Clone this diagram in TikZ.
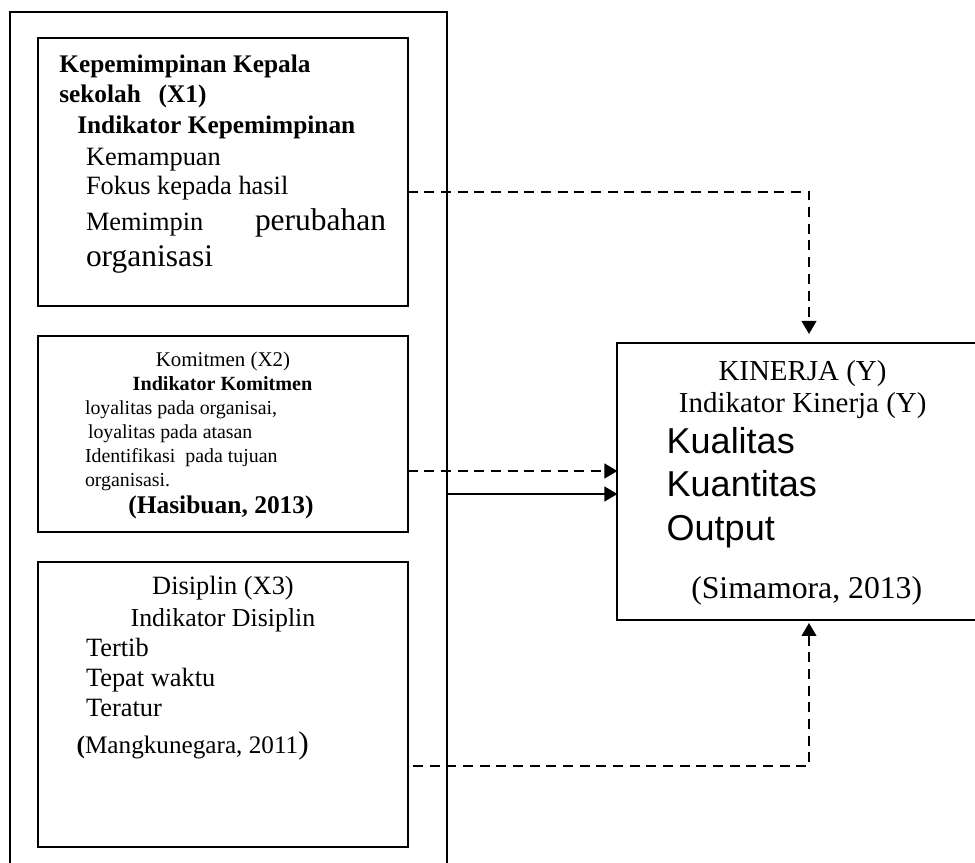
\documentclass[tikz,border=0pt]{standalone}
\usepackage{fontspec}
\setmainfont{Liberation Serif}
\newfontfamily\arialf{Liberation Sans}
\usetikzlibrary{arrows.meta}
\newcommand{\fsz}[1]{\fontsize{#1}{#1}\selectfont}
\begin{document}
\begin{tikzpicture}[x=0.75pt,y=-0.75pt]
\tikzset{
 frame/.style={draw, line width=1.5pt, inner sep=0pt, outer sep=0pt},
 lt/.style={anchor=base west, inner sep=0pt, outer sep=0pt},
 ct/.style={anchor=base, inner sep=0pt, outer sep=0pt},
 dsh/.style={line width=1.5pt, dash pattern=on 7.5pt off 5pt},
 sol/.style={line width=1.5pt},
 tip/.style={-{Triangle[length=9.75pt,width=11pt]}}
}
\useasboundingbox (0,0) rectangle (975,863);
\clip (0,0) rectangle (975,863);

% frames
\node[frame, minimum width=327.5pt, minimum height=658.5pt] (outer) at (228.35,451) {};
\node[frame, minimum width=277.5pt, minimum height=201.2pt] (b1) at (222.5,171.85) {};
\node[frame, minimum width=277.5pt, minimum height=146.8pt] (b2) at (222.5,433.85) {};
\node[frame, minimum width=277.5pt, minimum height=214.2pt] (b3) at (222.5,704.5) {};
\node[frame, minimum width=279.4pt, minimum height=207.4pt] (kin) at (803.75,481.25) {};

% box 1 text
\node[lt] (t11) at (59.3,72.7) {\fsz{19}\bfseries Kepemimpinan Kepala};
\node[lt] (t12) at (59.3,102.7) {\fsz{19}\bfseries sekolah\hspace{0.7em}(X1)};
\node[lt] (t13) at (77.3,133.3) {\fsz{19}\bfseries Indikator Kepemimpinan};
\node[lt] (t14) at (86,165.7) {\fsz{19.8}Kemampuan};
\node[lt] (t15) at (86,195) {\fsz{19.8}Fokus kepada hasil};
\node[lt] (t16) at (86,230) {\fsz{19.8}Memimpin};
\node[lt] (t16b) at (255,230) {\fsz{23.6}perubahan};
\node[lt] (t17) at (86,266.7) {\fsz{23.6}organisasi};

% box 2 text
\node[ct] (t21) at (223,366) {\fsz{15.7}Komitmen (X2)};
\node[ct] (t22) at (222.5,390) {\fsz{15.1}\bfseries Indikator Komitmen};
\node[lt] (t23) at (85,414) {\fsz{14.9}loyalitas pada organisai,};
\node[lt] (t24) at (88,438) {\fsz{14.9}loyalitas pada atasan};
\node[lt] (t25) at (85,462) {\fsz{14.9}Identifikasi\hspace{0.5em}pada tujuan};
\node[lt] (t26) at (85,486) {\fsz{14.9}organisasi.};
\node[ct] (t27) at (221,513) {\fsz{19.1}\bfseries (Hasibuan, 2013)};

% box 3 text
\node[ct] (t31) at (223,594.3) {\fsz{19.8}Disiplin (X3)};
\node[ct] (t32) at (223,626) {\fsz{19.4}Indikator Disiplin};
\node[lt] (t33) at (86,656) {\fsz{19.8}Tertib};
\node[lt] (t34) at (86,686) {\fsz{19.8}Tepat waktu};
\node[lt] (t35) at (86,716.7) {\fsz{19.8}Teratur};
\node[lt] (t36) at (76.7,753) {\fsz{18.9}{\bfseries (}Mangkunegara, 2011{\fsz{23.5})}};

% right box text
\node[ct] (t41) at (802.5,380) {\fsz{21.7}KINERJA (Y)};
\node[ct] (t42) at (802.7,412.7) {\fsz{21.7}Indikator Kinerja (Y)};
\node[lt] (t43) at (666.7,453.3) {\arialf\fsz{27}Kualitas};
\node[lt] (t44) at (666.7,496.7) {\arialf\fsz{27}Kuantitas};
\node[lt] (t45) at (666.7,540) {\arialf\fsz{27}Output};
\node[ct] (t46) at (806.7,598.3) {\fsz{23.8}(Simamora, 2013)};

% connectors
\coordinate (c1) at (809,192);
\coordinate (c2) at (500,471);
\coordinate (c3) at (500,494);
\coordinate (c4) at (809,766);
\draw[dsh,tip,shorten >=6.75pt] (b1.east |- c1) -- (c1) -- (kin.north -| c1);
\draw[dsh,tip] (b2.east |- c2) -- (kin.west |- c2);
\draw[sol,tip] (outer.east |- c3) -- (kin.west |- c3);
\draw[dsh,tip,shorten <=4pt,shorten >=2.6pt] (b3.east |- c4) -- (c4) -- (kin.south -| c4);
\end{tikzpicture}
\end{document}
